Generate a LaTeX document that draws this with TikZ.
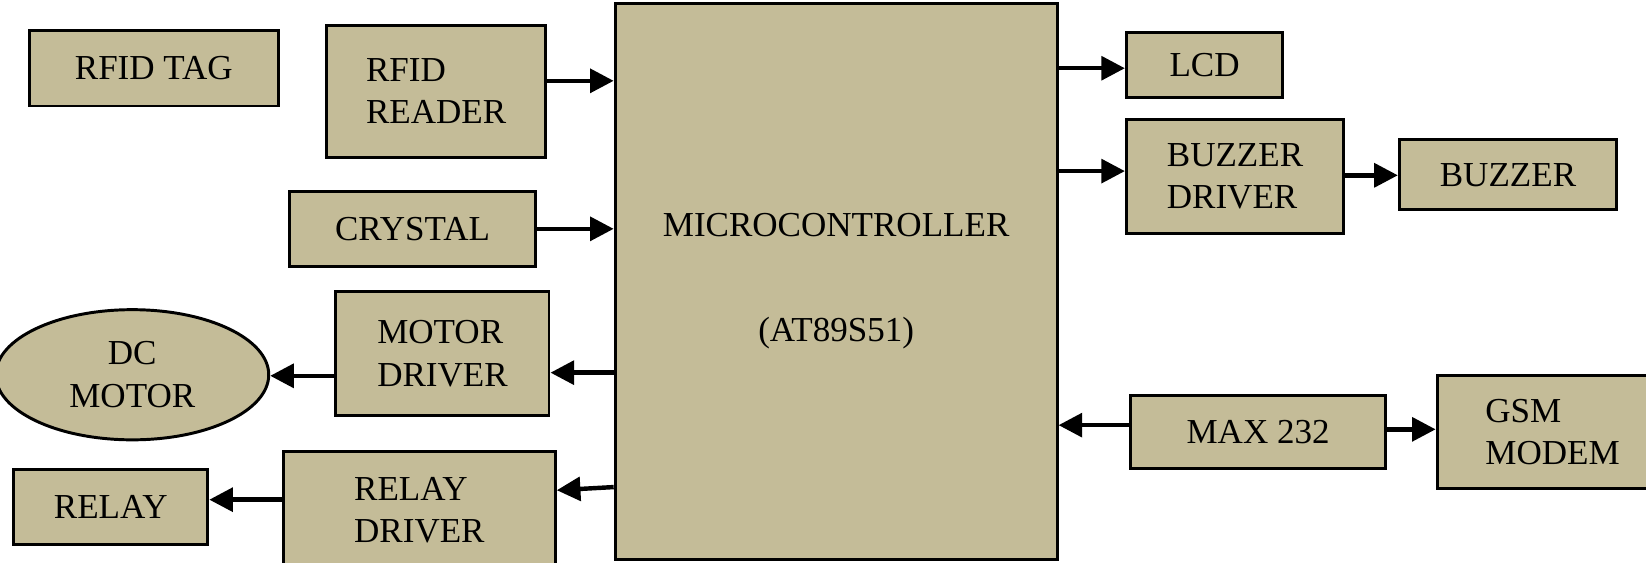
\documentclass[tikz,border=0pt]{standalone}
\usepackage{fontspec}
\setmainfont{Liberation Serif}
\usetikzlibrary{arrows.meta,shapes.geometric}
\definecolor{tan}{HTML}{C4BC98}
\tikzset{
  blk/.style={draw,line width=1.6pt,fill=tan,align=left,inner sep=0pt,font=\fontsize{19}{23}\selectfont},
  arr/.style={line width=2.4pt,-{Triangle[length=0.45cm,width=0.45cm]}},
}
\begin{document}
\begin{tikzpicture}[x=0.02cm,y=-0.02cm]
\useasboundingbox (0,0) rectangle (1568,536);
% blocks
\node[blk,minimum width=237*0.02cm,minimum height=72*0.02cm] (tag) at (146.5,65) {RFID TAG};
\node[blk,minimum width=209*0.02cm,minimum height=126*0.02cm] (reader) at (415.5,87) {RFID\\READER};
\node[blk,minimum width=234*0.02cm,minimum height=72*0.02cm] (crystal) at (393,218) {CRYSTAL};
\node[blk,minimum width=203*0.02cm,minimum height=118*0.02cm] (mdrv) at (421.5,337) {MOTOR\\DRIVER};
\node[blk,minimum width=259*0.02cm,minimum height=112*0.02cm] (rdrv) at (399.5,486) {RELAY\\DRIVER};
\node[blk,minimum width=185*0.02cm,minimum height=72*0.02cm] (relay) at (105.5,483) {RELAY};
\node[blk,ellipse,align=center,minimum width=260*0.02cm,minimum height=124*0.02cm] (motor) at (126,357) {DC\\MOTOR};
\node[blk,align=center,minimum width=421*0.02cm,minimum height=530*0.02cm] (micro) at (796.5,268) {MICROCONTROLLER\\[1.2cm](AT89S51)};
\node[blk,minimum width=149*0.02cm,minimum height=62*0.02cm] (lcd) at (1147.5,62) {LCD};
\node[blk,minimum width=207*0.02cm,minimum height=108*0.02cm] (bdrv) at (1176.5,168) {BUZZER\\DRIVER};
\node[blk,minimum width=207*0.02cm,minimum height=67*0.02cm] (buzzer) at (1436.5,166.5) {BUZZER};
\node[blk,minimum width=243*0.02cm,minimum height=69*0.02cm] (max) at (1198.5,411.5) {MAX 232};
\node[blk,minimum width=220*0.02cm,minimum height=107*0.02cm] (gsm) at (1479,411.5) {GSM\\MODEM};
% connectors
\draw[arr] (reader.east) ++(0,-10) coordinate (a1) -- (a1 -| micro.west);
\draw[arr] (crystal.east) -- (crystal.east -| micro.west);
\draw[arr] (micro.west |- 0,355) -- (mdrv.east |- 0,355);
\draw[arr] (mdrv.west |- 0,358) -- (motor.east |- 0,358);
\draw[arr] (micro.west |- 0,464) -- (rdrv.east |- 0,467);
\draw[arr] (rdrv.west |- 0,476) -- (relay.east |- 0,476);
\draw[arr] (micro.east |- 0,65) -- (lcd.west |- 0,65);
\draw[arr] (micro.east |- 0,163) -- (bdrv.west |- 0,163);
\draw[arr] (bdrv.east |- 0,167) -- (buzzer.west |- 0,167);
\draw[arr,{Triangle[length=0.45cm,width=0.45cm]}-] (micro.east |- 0,405) -- (max.west |- 0,405);
\draw[arr] (max.east |- 0,409) -- (gsm.west |- 0,409);
\end{tikzpicture}
\end{document}
